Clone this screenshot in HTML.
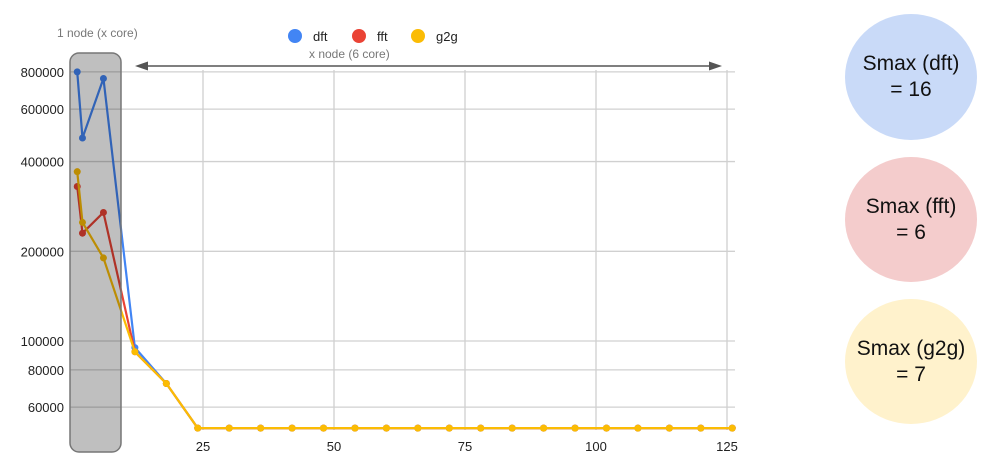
<!DOCTYPE html>
<html><head><meta charset="utf-8"><style>
body{margin:0;background:#fff;width:1000px;height:476px;overflow:hidden;font-family:"Liberation Sans",sans-serif}
.c{position:absolute;border-radius:50%;display:flex;align-items:center;justify-content:center;text-align:center;font-size:21px;color:#111;line-height:26px}
</style></head><body>
<svg id="chart" width="1000" height="476" style="position:absolute;left:0;top:0">
<g id="grid"></g><g id="series"></g><g id="labels"></g>
<rect x="70" y="53" width="51" height="399" rx="9" fill="rgba(0,0,0,0.25)" stroke="#777" stroke-width="1.5"/>
<text x="57" y="37" font-size="12" fill="#777">1 node (x core)</text>
<text x="309" y="58" font-size="12" fill="#777">x node (6 core)</text>
<line x1="145" y1="66" x2="712" y2="66" stroke="#555" stroke-width="1.5"/>
<polygon points="135,66 148,61.5 148,70.5" fill="#555"/>
<polygon points="722,66 709,61.5 709,70.5" fill="#555"/>
<g>
<circle cx="295" cy="36" r="7" fill="#4285f4"/><text x="313" y="41" font-size="13" fill="#222">dft</text>
<circle cx="359" cy="36" r="7" fill="#ea4335"/><text x="377" y="41" font-size="13" fill="#222">fft</text>
<circle cx="418" cy="36" r="7" fill="#fbbc04"/><text x="436" y="41" font-size="13" fill="#222">g2g</text>
</g>
</svg>
<div class="c" style="left:845px;top:14px;width:132px;height:126px;background:#c9daf8">Smax (dft)<br>= 16</div>
<div class="c" style="left:845px;top:157px;width:132px;height:125px;background:#f4cccc">Smax (fft)<br>= 6</div>
<div class="c" style="left:845px;top:299px;width:132px;height:125px;background:#fff2cc">Smax (g2g)<br>= 7</div>
<script>
const xs=[1,2,6,12,18,24,30,36,42,48,54,60,66,72,78,84,90,96,102,108,114,120,126];
const dft=[800000,480000,760000,95000,72000,51000,51000,51000,51000,51000,51000,51000,51000,51000,51000,51000,51000,51000,51000,51000,51000,51000,51000];
const fft=[330000,230000,270000,92000,72000,51000,51000,51000,51000,51000,51000,51000,51000,51000,51000,51000,51000,51000,51000,51000,51000,51000,51000];
const g2g=[370000,250000,190000,92000,72000,51000,51000,51000,51000,51000,51000,51000,51000,51000,51000,51000,51000,51000,51000,51000,51000,51000,51000];
const yTicks=[60000,80000,100000,200000,400000,600000,800000];
const xTicks=[25,50,75,100,125];
const NS="http://www.w3.org/2000/svg";
const X=v=>72+5.24*v;
const Y=v=>341-(Math.log10(v)-5)*298;
const grid=document.getElementById('grid'),lab=document.getElementById('labels'),ser=document.getElementById('series');
function mk(tag,a,p){const e=document.createElementNS(NS,tag);for(const k in a)e.setAttribute(k,a[k]);p.appendChild(e);return e;}
yTicks.forEach(t=>{const y=Y(t);
const l=mk('line',{x1:70,x2:735,y1:y,y2:y,stroke:'#d0d0d0','stroke-width':1.3},grid);


const tx=mk('text',{x:64,y:y+5,'text-anchor':'end','font-size':13,fill:'#222'},lab);tx.textContent=t;

});
xTicks.forEach(t=>{const x=X(t);
const l=mk('line',{x1:x,x2:x,y1:70,y2:430,stroke:'#d0d0d0','stroke-width':1.3},grid);


const tx=mk('text',{x:x,y:451,'text-anchor':'middle','font-size':13,fill:'#222'},lab);tx.textContent=t;

});
[[dft,'#4285f4','dft'],[fft,'#ea4335','fft'],[g2g,'#fbbc04','g2g']].forEach(([d,c,n])=>{
const p=mk('polyline',{points:xs.map((x,i)=>X(x)+','+Y(d[i])).join(' '),fill:'none',stroke:c,'stroke-width':2.2},ser);


xs.forEach((x,i)=>{const ci=mk('circle',{cx:X(x),cy:Y(d[i]),r:3.5,fill:c},ser);

});});
</script>
</body></html>
